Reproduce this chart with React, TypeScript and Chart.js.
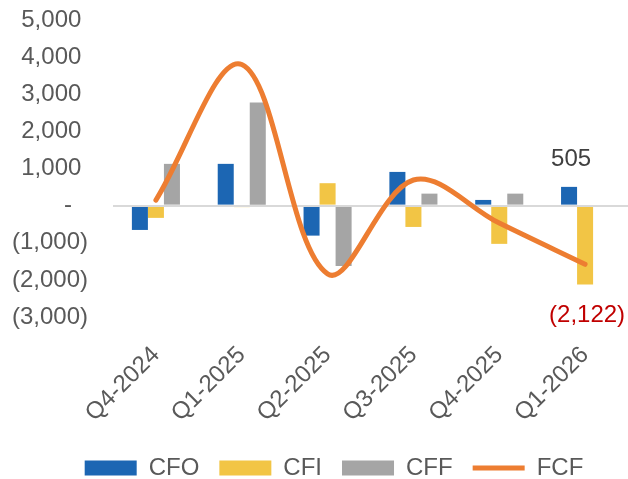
import React, { useEffect, useRef } from "react";
import { Chart, registerables } from "chart.js";

Chart.register(...registerables);

const categories = ["Q4-2024", "Q1-2025", "Q2-2025", "Q3-2025", "Q4-2025", "Q1-2026"];
const cfo = [-655, 1125, -808, 908, 153, 505];
const cfi = [-330, -40, 604, -574, -1030, -2122];
const cff = [1125, 2775, -1625, 323, 323, 0];
const fcf = [150, 3800, -1840, 690, -470, -1580];

const yMin = -3000;
const yMax = 5000;
const yStep = 1000;

// which bar values carry a data label
const valueLabels = [
  { series: 0, index: 5, color: "#404040", side: "above" },
  { series: 1, index: 5, color: "#C00000", side: "below" },
];

const FONT = "'Liberation Sans', Arial, Helvetica, sans-serif";
const TEXT = "#595959";

function fmtAccounting(v: number): string {
  const s = Math.abs(v).toLocaleString("en-US");
  return v < 0 ? "(" + s + ")" : s;
}

const seriesData = [cfo, cfi, cff, fcf];

const valueLabelPlugin = {
  id: "valueLabels",
  afterDatasetsDraw(chart: any) {
    const ctx = chart.ctx;
    ctx.save();
    ctx.font = "24px " + FONT;
    ctx.textAlign = "center";
    ctx.textBaseline = "middle";
    for (const l of valueLabels) {
      const meta = chart.getDatasetMeta(l.series);
      const el = meta.data[l.index];
      if (!el) continue;
      const v = seriesData[l.series][l.index];
      ctx.fillStyle = l.color;
      const y = l.side === "above" ? el.y - 28 : el.y + 31;
      ctx.fillText(fmtAccounting(v), el.x + 2, y);
    }
    ctx.restore();
  },
};

// redraw the y grid (zero line only) above the bars but below the FCF line
const zeroLineOverBarsPlugin = {
  id: "zeroLineOverBars",
  beforeDatasetDraw(chart: any, args: any) {
    if (args.meta && args.meta.type === "line") {
      chart.scales.y.drawGrid(chart.chartArea);
    }
  },
};

// nudge the legend block to sit where the original does
const legendShiftPlugin = {
  id: "legendShift",
  afterLayout(chart: any) {
    if (chart.legend) chart.legend.left += 40;
  },
};

export default function App() {
  const ref = useRef<HTMLCanvasElement>(null);
  useEffect(() => {
    if (!ref.current) return;
    Chart.defaults.font.family = FONT;
    const chart = new Chart(ref.current, {
      type: "bar",
      data: {
        labels: categories,
        datasets: [
          { label: "CFO", data: cfo, backgroundColor: "#1C66B3", borderWidth: 0, pointStyle: "rect", order: 0 } as any,
          { label: "CFI", data: cfi, backgroundColor: "#F2C545", borderWidth: 0, pointStyle: "rect", order: 0 } as any,
          { label: "CFF", data: cff, backgroundColor: "#A5A5A5", borderWidth: 0, pointStyle: "rect", order: 0 } as any,
          {
            type: "line",
            label: "FCF",
            data: fcf,
            borderColor: "#ED7D31",
            backgroundColor: "#ED7D31",
            borderWidth: 5,
            borderCapStyle: "round",
            borderJoinStyle: "round",
            tension: 0.35,
            pointRadius: 0,
            pointHoverRadius: 0,
            pointStyle: "line",
            fill: false,
            order: -1,
          } as any,
        ],
      },
      options: {
        responsive: false,
        animation: false,
        devicePixelRatio: 1,
        datasets: { bar: { categoryPercentage: 0.56, barPercentage: 1 } },
        layout: { padding: { left: 0, right: 0, top: 20, bottom: -11 } },
        plugins: {
          tooltip: { enabled: false },
          legend: {
            position: "bottom",
            labels: {
              usePointStyle: true,
              pointStyleWidth: 52,
              boxHeight: 15,
              padding: 20,
              color: TEXT,
              font: { size: 24, family: FONT },
              sort: (a: any, b: any) => a.datasetIndex - b.datasetIndex,
            },
          },
        },
        scales: {
          x: {
            offset: true,
            grid: { display: false },
            border: { display: false },
            ticks: {
              color: TEXT,
              font: { size: 24, family: FONT },
              minRotation: 45,
              maxRotation: 45,
              autoSkip: false,
              padding: 16,
              labelOffset: 0,
            },
            afterFit: (s: any) => {
              s.height = 119;
            },
          },
          y: {
            min: yMin,
            max: yMax,
            grid: {
              drawTicks: false,
              lineWidth: 2,
              color: (c: any) => (c.tick && c.tick.value === 0 ? "#D9D9D9" : "rgba(0,0,0,0)"),
            },
            border: { display: false },
            ticks: {
              stepSize: yStep,
              color: TEXT,
              font: { size: 24, family: FONT },
              padding: 25,
              callback: (v: any) => {
                const n = Number(v);
                if (n === 0) return "-\u2004\u2004";
                if (n < 0) return fmtAccounting(n);
                return fmtAccounting(n) + " ";
              },
            },
            afterFit: (s: any) => {
              s.width = 113;
              s.paddingTop = 0;
              s.paddingBottom = 0;
            },
          },
        },
      },
      plugins: [valueLabelPlugin, zeroLineOverBarsPlugin, legendShiftPlugin],
    });
    return () => chart.destroy();
  }, []);
  return (
    <div style={{ position: "absolute", left: 0, top: 0, width: 628, height: 479, background: "#fff" }}>
      <canvas ref={ref} width={628} height={479} style={{ display: "block" }} />
    </div>
  );
}
